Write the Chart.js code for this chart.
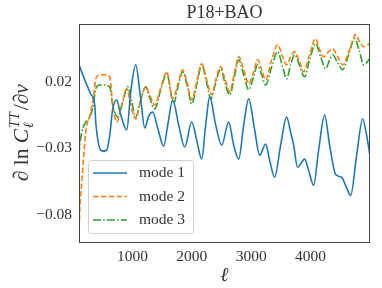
<!DOCTYPE html>
<html>
<head>
<meta charset="utf-8">
<script src="https://cdn.jsdelivr.net/npm/chart.js@4/dist/chart.umd.min.js"></script>
<style>
  html, body { margin: 0; padding: 0; background: #fff; }
  #wrap { width: 382px; height: 288px; }
</style>
</head>
<body>
<div id="wrap"><canvas id="chart" width="382" height="288"></canvas></div>
<script>
// values
const ells1 = [100, 197, 298, 365, 382, 433, 466, 517, 567, 618, 668, 735, 803, 904, 971, 1055, 1139, 1207, 1274, 1341, 1425, 1526, 1594, 1678, 1779, 1880, 1998, 2082, 2166, 2233, 2301, 2402, 2503, 2620, 2705, 2789, 2873, 2957, 3058, 3142, 3243, 3310, 3394, 3495, 3596, 3663, 3714, 3781, 3899, 3966, 4051, 4135, 4236, 4320, 4421, 4522, 4589, 4674, 4775, 4876, 4943, 4995];
const mode1 = [0.0328, 0.0215, 0.0109, 0.0026, -0.0102, -0.0276, -0.0313, -0.0321, -0.0313, -0.0200, -0.0004, 0.0064, -0.0049, -0.0162, 0.0125, 0.0328, 0.0072, -0.0147, -0.0057, -0.0027, -0.0147, -0.0283, -0.0125, 0.0064, -0.0125, -0.0291, -0.0102, -0.0238, -0.0381, -0.0125, 0.0087, -0.0125, -0.0276, -0.0102, -0.0276, -0.0381, -0.0125, 0.0072, -0.0162, -0.0351, -0.0268, -0.0389, -0.0517, -0.0276, -0.0064, -0.0178, -0.0276, -0.0442, -0.0381, -0.0464, -0.0578, -0.0313, -0.0049, -0.0276, -0.0495, -0.0517, -0.0578, -0.0653, -0.0351, -0.0079, -0.0200, -0.0344];

const ells2 = [100, 113, 146, 180, 214, 298, 348, 382, 449, 534, 618, 668, 735, 820, 904, 971, 1055, 1139, 1224, 1291, 1375, 1476, 1577, 1678, 1762, 1846, 1930, 1998, 2082, 2166, 2250, 2334, 2402, 2486, 2553, 2637, 2721, 2789, 2873, 2957, 3041, 3108, 3176, 3243, 3344, 3445, 3529, 3596, 3663, 3731, 3815, 3882, 3983, 4084, 4152, 4219, 4303, 4371, 4455, 4539, 4657, 4758, 4825, 4892, 4995];
const mode2 = [-0.0960, -0.0766, -0.0555, -0.0351, -0.0178, -0.0027, 0.0102, 0.0223, 0.0253, 0.0253, 0.0238, 0.0026, -0.0102, 0.0026, 0.0147, 0.0026, -0.0079, 0.0064, 0.0162, 0.0102, 0.0026, 0.0155, 0.0276, 0.0072, 0.0177, 0.0291, 0.0177, 0.0064, 0.0200, 0.0336, 0.0215, 0.0102, 0.0215, 0.0313, 0.0230, 0.0125, 0.0276, 0.0389, 0.0291, 0.0185, 0.0276, 0.0366, 0.0291, 0.0215, 0.0366, 0.0479, 0.0389, 0.0328, 0.0389, 0.0427, 0.0351, 0.0276, 0.0404, 0.0525, 0.0442, 0.0389, 0.0427, 0.0449, 0.0389, 0.0328, 0.0442, 0.0555, 0.0502, 0.0464, 0.0487];

const ells3 = [100, 113, 146, 214, 281, 332, 382, 449, 534, 618, 668, 752, 837, 921, 988, 1055, 1139, 1224, 1291, 1375, 1476, 1577, 1695, 1762, 1846, 1930, 1998, 2082, 2166, 2250, 2317, 2402, 2486, 2553, 2637, 2721, 2789, 2873, 2957, 3041, 3108, 3176, 3243, 3344, 3445, 3529, 3596, 3663, 3731, 3815, 3899, 3983, 4084, 4169, 4253, 4320, 4371, 4455, 4539, 4640, 4741, 4825, 4892, 4995];
const mode3 = [-0.0351, -0.0276, -0.0178, -0.0102, -0.0064, 0.0004, 0.0147, 0.0177, 0.0177, 0.0162, 0.0026, -0.0064, 0.0049, 0.0162, 0.0049, -0.0064, 0.0064, 0.0162, 0.0079, -0.0004, 0.0140, 0.0260, 0.0034, 0.0155, 0.0276, 0.0155, 0.0034, 0.0177, 0.0328, 0.0192, 0.0072, 0.0192, 0.0298, 0.0200, 0.0102, 0.0245, 0.0366, 0.0253, 0.0140, 0.0238, 0.0328, 0.0253, 0.0177, 0.0313, 0.0427, 0.0313, 0.0223, 0.0328, 0.0404, 0.0321, 0.0238, 0.0366, 0.0487, 0.0389, 0.0298, 0.0366, 0.0404, 0.0343, 0.0291, 0.0404, 0.0525, 0.0427, 0.0328, 0.0374];

const seriesNames = ['mode 1', 'mode 2', 'mode 3'];
const xTicks = [1000, 2000, 3000, 4000];
const yTicks = [0.02, -0.03, -0.08];
const titleText = 'P18+BAO';

const serif = '"Liberation Serif", "DejaVu Serif", serif';
const colors = ['#1f77b4', '#ff7f0e', '#2ca02c'];
const dashes = [[], [5.5, 2.4], [8, 2.2, 1.5, 2.2]];

const toPts = (xs, ys) => xs.map((x, i) => ({ x: x, y: ys[i] }));

const fmt = v => (v < 0 ? '\u2212' : '') + Math.abs(v).toFixed(2);

// title, frame, axis labels and legend
const extras = {
    id: 'extras',
    afterDatasetsDraw(chart) {
        const ctx = chart.ctx;
        const a = chart.chartArea;
        ctx.save();
        // frame on all four sides
        ctx.strokeStyle = '#444';
        ctx.lineWidth = 1;
        ctx.strokeRect(Math.round(a.left) + 0.5, Math.round(a.top) + 0.5,
            Math.round(a.right - a.left) - 1, Math.round(a.bottom - a.top));

        // legend
        const lx = 88, ly = 160, lw = 105, lh = 73;
        ctx.fillStyle = 'rgba(255,255,255,0.8)';
        ctx.strokeStyle = '#d0d0d0';
        ctx.beginPath();
        ctx.roundRect(lx + 0.5, ly + 0.5, lw, lh, 3);
        ctx.fill();
        ctx.stroke();
        ctx.font = '15.5px ' + serif;
        ctx.textBaseline = 'middle';
        ctx.textAlign = 'left';
        seriesNames.forEach((name, i) => {
            const yy = 173 + i * 23.5;
            ctx.strokeStyle = colors[i];
            ctx.lineWidth = 1.5;
            ctx.setLineDash(dashes[i]);
            ctx.beginPath();
            ctx.moveTo(93, yy);
            ctx.lineTo(127, yy);
            ctx.stroke();
            ctx.setLineDash([]);
            ctx.fillStyle = '#333';
            ctx.fillText(name, 139, yy);
        });
        ctx.restore();
    },
    afterDraw(chart) {
        const ctx = chart.ctx;
        const a = chart.chartArea;
        ctx.save();
        ctx.fillStyle = '#333';
        // title
        ctx.font = '18px ' + serif;
        ctx.textAlign = 'center';
        ctx.textBaseline = 'alphabetic';
        ctx.fillText(titleText, (a.left + a.right) / 2, 18);

        // x label
        ctx.font = 'italic 20px ' + serif;
        ctx.fillText('\u2113', (a.left + a.right) / 2, 281);

        // y label, rotated
        const big = 'italic 21.5px ' + serif;
        const up = '21.5px ' + serif;
        const small = 'italic 14px ' + serif;
        ctx.translate(22, (a.top + a.bottom) / 2);
        ctx.rotate(-Math.PI / 2);
        ctx.textAlign = 'left';
        const parts = [
            { t: '\u2202', f: big },
            { t: ' ln ', f: up },
            { t: 'C', f: big },
            { sub: '\u2113', sup: 'TT' },
            { t: '/', f: up },
            { t: '\u2202\u03bd', f: big }
        ];
        let total = 0;
        parts.forEach(p => {
            if (p.t) { ctx.font = p.f; p.w = ctx.measureText(p.t).width; }
            else {
                ctx.font = small;
                p.w = Math.max(ctx.measureText(p.sub).width, ctx.measureText(p.sup).width) + 3;
            }
            total += p.w;
        });
        let x = -total / 2;
        parts.forEach(p => {
            if (p.t) { ctx.font = p.f; ctx.fillText(p.t, x, 6); }
            else {
                ctx.font = small;
                ctx.fillText(p.sub, x + 1, 11);
                ctx.fillText(p.sup, x + 1, -3);
            }
            x += p.w;
        });
        ctx.restore();
    }
};

const ds = (label, xs, ys, i) => ({
    label: label,
    data: toPts(xs, ys),
    borderColor: colors[i],
    borderWidth: 1.6,
    borderDash: dashes[i],
    pointRadius: 0,
    fill: false,
    cubicInterpolationMode: 'monotone'
});

new Chart(document.getElementById('chart'), {
    type: 'line',
    data: {
        datasets: [
            ds(seriesNames[0], ells1, mode1, 0),
            ds(seriesNames[1], ells2, mode2, 1),
            ds(seriesNames[2], ells3, mode3, 2)
        ]
    },
    options: {
        responsive: false,
        animation: false,
        layout: { padding: { top: 24, right: 12, left: 0, bottom: 0 } },
        plugins: {
            legend: { display: false },
            tooltip: { enabled: false },
            title: { display: false }
        },
        scales: {
            x: {
                type: 'linear',
                min: 100,
                max: 5000,
                grid: { display: false, drawTicks: true, tickLength: 4, tickColor: '#444' },
                border: { display: false },
                afterBuildTicks: s => { s.ticks = xTicks.map(v => ({ value: v })); },
                afterFit: s => { s.height = 46.5; },
                ticks: {
                    color: '#333',
                    padding: 2,
                    maxRotation: 0,
                    font: { family: serif, size: 15.5 },
                    callback: v => String(v)
                }
            },
            y: {
                type: 'linear',
                min: -0.1,
                max: 0.0635,
                grid: { display: false, drawTicks: true, tickLength: 4, tickColor: '#444' },
                border: { display: false },
                afterBuildTicks: s => { s.ticks = yTicks.map(v => ({ value: v })); },
                afterFit: s => { s.width = 79; },
                ticks: {
                    color: '#333',
                    padding: 3,
                    font: { family: serif, size: 15.5 },
                    callback: v => fmt(v)
                }
            }
        }
    },
    plugins: [extras]
});
</script>
</body>
</html>
